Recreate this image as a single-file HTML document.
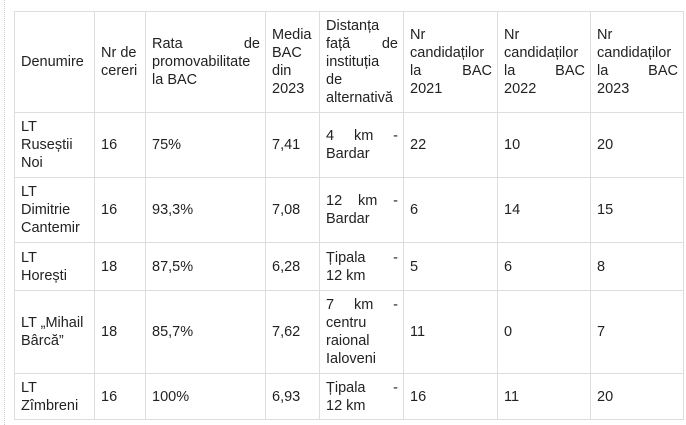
<!DOCTYPE html>
<html><head><meta charset="utf-8"><style>
body{margin:0;width:686px;height:425px;background:#fff;position:relative;overflow:hidden;font-family:"Liberation Sans",Arial,sans-serif;}
.dots{position:absolute;left:4px;top:0;height:425px;border-left:1px dotted #ccc;}
table{position:absolute;left:14px;top:11px;border-collapse:collapse;table-layout:fixed;width:669px;}
td{border:1px solid #ddd;font-size:14.5px;line-height:18px;color:#222;padding:0 5px 0 6px;vertical-align:middle;text-align:left;overflow:hidden;white-space:nowrap;}
.j{display:flex;justify-content:space-between;}
</style></head><body>
<div class="dots"></div>
<table>
<colgroup><col style="width:80px"><col style="width:51px"><col style="width:120px"><col style="width:54px"><col style="width:84px"><col style="width:94px"><col style="width:93px"><col style="width:93px"></colgroup>
<tr style="height:101px">
<td>Denumire</td>
<td>Nr de<br>cereri</td>
<td><div class="j"><span>Rata</span><span>de</span></div>promovabilitate<br>la BAC</td>
<td>Media<br>BAC<br>din<br>2023</td>
<td>Distanța<br><div class="j"><span>față</span><span>de</span></div>instituția<br>de<br>alternativă</td>
<td>Nr<br>candidaților<br><div class="j"><span>la</span><span>BAC</span></div>2021</td>
<td>Nr<br>candidaților<br><div class="j"><span>la</span><span>BAC</span></div>2022</td>
<td>Nr<br>candidaților<br><div class="j"><span>la</span><span>BAC</span></div>2023</td>
</tr>
<tr style="height:65px">
<td>LT<br>Ruseștii<br>Noi</td><td>16</td><td>75%</td><td>7,41</td><td><div class="j"><span>4</span><span>km</span><span>-</span></div>Bardar</td><td>22</td><td>10</td><td>20</td>
</tr>
<tr style="height:65px">
<td>LT<br>Dimitrie<br>Cantemir</td><td>16</td><td>93,3%</td><td>7,08</td><td><div class="j"><span>12</span><span>km</span><span>-</span></div>Bardar</td><td>6</td><td>14</td><td>15</td>
</tr>
<tr style="height:48px">
<td>LT<br>Horești</td><td>18</td><td>87,5%</td><td>6,28</td><td><div class="j"><span>Țipala</span><span>-</span></div>12 km</td><td>5</td><td>6</td><td>8</td>
</tr>
<tr style="height:83px">
<td>LT „Mihail<br>Bârcă”</td><td>18</td><td>85,7%</td><td>7,62</td><td><div class="j"><span>7</span><span>km</span><span>-</span></div>centru<br>raional<br>Ialoveni</td><td>11</td><td>0</td><td>7</td>
</tr>
<tr style="height:46px">
<td>LT<br>Zîmbreni</td><td>16</td><td>100%</td><td>6,93</td><td><div class="j"><span>Țipala</span><span>-</span></div>12 km</td><td>16</td><td>11</td><td>20</td>
</tr>
</table>
</body></html>
